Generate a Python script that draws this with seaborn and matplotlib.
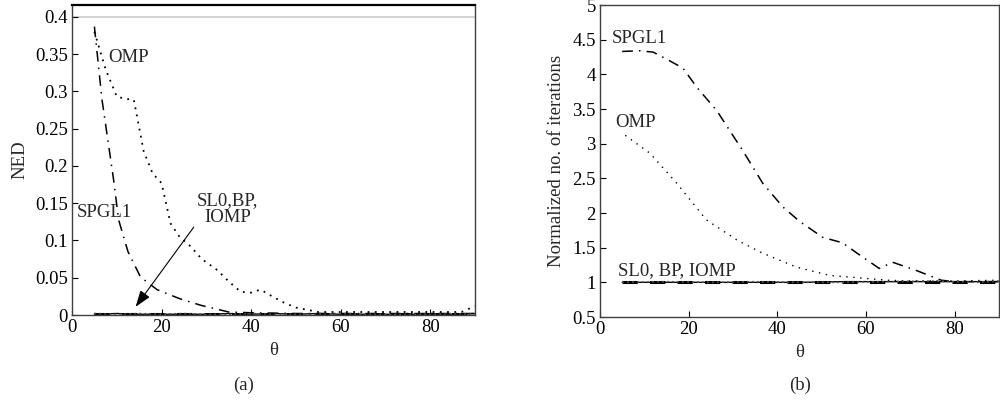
import numpy as np
import pandas as pd
import matplotlib
matplotlib.use('Agg')
import matplotlib.pyplot as plt
import seaborn as sns
from matplotlib.ticker import FuncFormatter

sns.set_style("white")
plt.rcParams['font.family'] = ['Liberation Serif', 'DejaVu Serif']

# ---- (a) NED vs theta ----
ned_spgl1_theta = [5, 6.7, 9.3, 10.4, 12.5, 15.3, 19, 24, 28.8, 35, 40, 50, 60, 70, 80, 90]
ned_spgl1 = [0.387, 0.289, 0.181, 0.128, 0.085, 0.051, 0.034, 0.022, 0.013, 0.004,
             0.003, 0.002, 0.002, 0.002, 0.002, 0.002]
ned_omp_theta = [5, 7.5, 10, 12, 13.8, 16, 18, 20, 22, 24, 26.5, 29, 32.5, 35, 37.7,
                 40, 42, 43, 45, 47.5, 50, 55, 60, 70, 80, 87, 90]
ned_omp = [0.38, 0.33, 0.293, 0.29, 0.289, 0.22, 0.19, 0.177, 0.123, 0.105, 0.092,
           0.075, 0.06, 0.045, 0.031, 0.03, 0.034, 0.031, 0.024, 0.016, 0.01, 0.004,
           0.004, 0.004, 0.004, 0.004, 0.012]
ned_low_theta = [5, 10, 15, 20, 25, 30, 35, 40, 45, 50, 55, 60, 65, 70, 75, 80, 85, 90]
ned_sl0 = [0.001, 0.002, 0.001, 0.001, 0.001, 0.001, 0.002, 0.001, 0.002, 0.001,
           0.002, 0.001, 0.001, 0.001, 0.001, 0.001, 0.001, 0.002]
ned_bp = [0.001, 0.001, 0.001, 0.001, 0.001, 0.001, 0.001, 0.001, 0.001, 0.001,
          0.001, 0.001, 0.001, 0.001, 0.001, 0.001, 0.001, 0.001]
ned_iomp = [0.002, 0.001, 0.002, 0.001, 0.002, 0.001, 0.001, 0.002, 0.001, 0.001,
            0.001, 0.002, 0.001, 0.001, 0.001, 0.001, 0.002, 0.001]

# ---- (b) normalized iterations vs theta ----
it_spgl1_theta = [5, 9, 12, 15, 18.7, 22, 26.3, 32.2, 36.7, 41.2, 45, 50.2, 54.7, 58,
                  63, 66, 71.4, 77, 80, 85, 90]
it_spgl1 = [4.33, 4.34, 4.32, 4.22, 4.09, 3.8, 3.48, 2.9, 2.43, 2.09, 1.88, 1.65, 1.57,
            1.42, 1.2, 1.29, 1.17, 1.03, 1.01, 1.01, 1.01]
it_omp_theta = [5.7, 11.3, 17.3, 24, 30.9, 36.7, 44.3, 51.8, 59.3, 65, 70, 80, 90]
it_omp = [3.12, 2.86, 2.43, 1.9, 1.61, 1.42, 1.22, 1.1, 1.06, 1.03, 1.02, 1.02, 1.03]
it_low_theta = [5, 15, 25, 35, 45, 55, 65, 75, 85, 90]
it_sl0 = [1.0, 1.0, 1.0, 1.0, 1.0, 1.01, 1.01, 1.01, 1.01, 1.01]
it_bp = [1.0, 1.0, 1.0, 1.0, 1.0, 1.0, 1.0, 1.0, 1.0, 1.0]
it_iomp = [1.0, 1.01, 1.0, 1.01, 1.0, 1.0, 1.01, 1.02, 1.0, 1.02]

fs = 13.5
fig = plt.figure(figsize=(10, 4.04), dpi=100)
ax1 = fig.add_axes([0.072, 89 / 404, 0.403, 310 / 404])
ax2 = fig.add_axes([0.600, 87 / 404, 0.399, 312 / 404])

dashdot = (0, (7, 4, 1, 4))

# panel (a)
sns.lineplot(x=ned_spgl1_theta, y=ned_spgl1, ax=ax1, color='k', lw=1.1, linestyle=dashdot)
sns.lineplot(x=ned_omp_theta, y=ned_omp, ax=ax1, color='k', lw=1.3, linestyle=(0, (1, 3)))
sns.lineplot(x=ned_low_theta, y=ned_sl0, ax=ax1, color='k', lw=1.0, linestyle='-')
sns.lineplot(x=ned_low_theta, y=ned_bp, ax=ax1, color='k', lw=2.2, linestyle=(0, (5, 4)))
sns.lineplot(x=ned_low_theta, y=ned_iomp, ax=ax1, color='0.3', lw=1.2, linestyle=(0, (1, 2)))
ax1.axhline(0.4, color='0.8', lw=1.2, zorder=0)
ax1.set_xlim(0, 90)
ax1.set_ylim(0, 0.416)
ax1.set_yticks([0, 0.05, 0.1, 0.15, 0.2, 0.25, 0.3, 0.35, 0.4])
ax1.set_xticks([0, 20, 40, 60, 80])
ax1.set_ylabel('NED', fontsize=fs, labelpad=5)
ax1.set_xlabel('θ', fontsize=fs, labelpad=4)
ax1.text(8, 0.345, 'OMP', fontsize=fs, va='center', ha='left')
ax1.text(1.1, 0.137, 'SPGL1', fontsize=fs, va='center', ha='left')
ax1.text(34.8, 0.142, 'SL0,BP,\nIOMP', fontsize=fs, va='center', ha='center', linespacing=0.95)
ax1.annotate('', xy=(14.2, 0.011), xytext=(27.2, 0.118),
             arrowprops=dict(arrowstyle='-|>,head_length=1.0,head_width=0.35',
                             color='k', lw=0.8, shrinkA=0, shrinkB=0))

# panel (b)
sns.lineplot(x=it_spgl1_theta, y=it_spgl1, ax=ax2, color='k', lw=1.1, linestyle=dashdot)
sns.lineplot(x=it_omp_theta, y=it_omp, ax=ax2, color='k', lw=1.0, linestyle=(0, (1, 4)))
sns.lineplot(x=it_low_theta, y=it_sl0, ax=ax2, color='k', lw=1.0, linestyle='-')
sns.lineplot(x=it_low_theta, y=it_bp, ax=ax2, color='k', lw=2.2, linestyle=(0, (5, 4)))
sns.lineplot(x=it_low_theta, y=it_iomp, ax=ax2, color='0.35', lw=1.2, linestyle=(0, (1, 2)))
ax2.set_xlim(0, 90)
ax2.set_ylim(0.5, 5)
ax2.set_yticks([0.5, 1, 1.5, 2, 2.5, 3, 3.5, 4, 4.5, 5])
ax2.set_xticks([0, 20, 40, 60, 80])
ax2.set_ylabel('Normalized no. of iterations', fontsize=fs, labelpad=5)
ax2.set_xlabel('θ', fontsize=fs, labelpad=4)
ax2.text(2.7, 4.52, 'SPGL1', fontsize=fs, va='center', ha='left')
ax2.text(3.4, 3.3, 'OMP', fontsize=fs, va='center', ha='left')
ax2.text(4.0, 1.17, 'SL0, BP, IOMP', fontsize=fs, va='center', ha='left')

fmt = FuncFormatter(lambda v, p: '%g' % v)
for ax in (ax1, ax2):
    ax.yaxis.set_major_formatter(fmt)
    ax.tick_params(direction='in', length=4, width=0.8, labelsize=fs, pad=3,
                   colors='k', left=True, bottom=True)
    for s in ax.spines.values():
        s.set_color('0.25')
        s.set_linewidth(1.0)
    ax.grid(False)
ax1.spines['top'].set_color('k')
ax1.spines['top'].set_linewidth(1.6)

fig.text(0.244, 1 - 385 / 404, '(a)', fontsize=fs, ha='center', va='center')
fig.text(0.800, 1 - 385 / 404, '(b)', fontsize=fs, ha='center', va='center')

fig.savefig('out.png', dpi=100)
